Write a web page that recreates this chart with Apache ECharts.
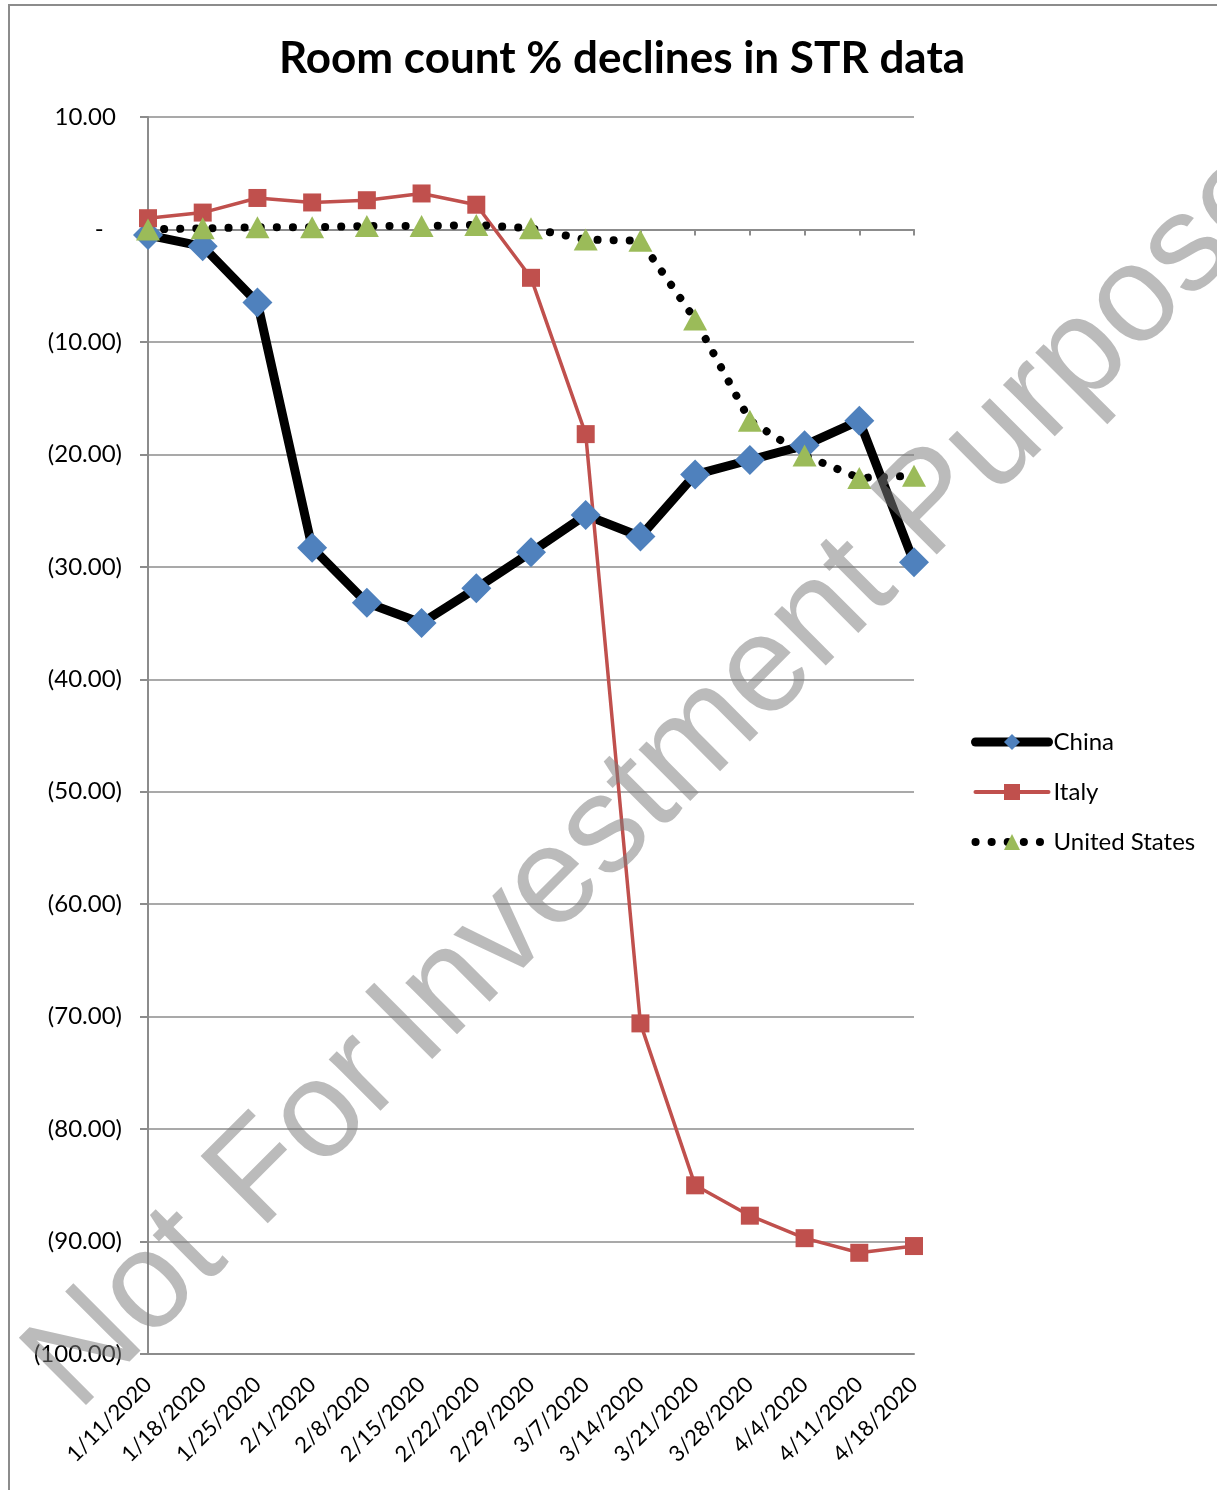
<!DOCTYPE html>
<html>
<head>
<meta charset="utf-8">
<script src="https://cdn.jsdelivr.net/npm/echarts@6/dist/echarts.min.js"></script>
<style>
  html, body { margin: 0; padding: 0; background: #fff; }
  #main { width: 1217px; height: 1490px; }
</style>
</head>
<body>
<div id="main"></div>
<script>
// weeks on the x axis
var weeks = ['1/11/2020', '1/18/2020', '1/25/2020', '2/1/2020', '2/8/2020', '2/15/2020', '2/22/2020',
  '2/29/2020', '3/7/2020', '3/14/2020', '3/21/2020', '3/28/2020', '4/4/2020', '4/11/2020', '4/18/2020'];

// room count % change
var china = [-0.5, -1.5, -6.5, -28.3, -33.2, -35.0, -31.9, -28.7, -25.4, -27.3, -21.8, -20.5, -19.2, -17.0, -29.6];
var italy = [1.0, 1.5, 2.8, 2.4, 2.6, 3.2, 2.2, -4.3, -18.2, -70.6, -85.0, -87.7, -89.7, -91.0, -90.4];
var usa = [0.0, 0.1, 0.2, 0.2, 0.3, 0.3, 0.4, 0.1, -0.9, -1.0, -8.0, -17.0, -20.1, -22.1, -21.9];

var yMin = -100, yMax = 10, yStep = 10;

var font = 'Lato, "Open Sans", sans-serif';

// accounting style labels: 10.00, -, (10.00)
function fmtY(v) {
  if (v === 0) return '-   ';
  if (v < 0) return '(' + Math.abs(v).toFixed(2) + ')';
  return v.toFixed(2) + ' ';
}

var usDots = [0.1, 16];

// watermark, one word at a time along a 45deg baseline
var wmWords = [['Not', 0], ['For', 257], ['Investment', 488], ['Purpose', 1203]];
var wmX0 = 85, wmY0 = 1420, wmSize = 138;
var wmGraphics = wmWords.map(function (w) {
  var d = w[1] * Math.SQRT1_2;
  var up = 0.3465 * wmSize * Math.SQRT1_2; // middle of em box above baseline
  return {
    type: 'text',
    z: 100,
    x: wmX0 + d - up,
    y: wmY0 - d - up,
    rotation: Math.PI / 4,
    style: {
      text: w[0],
      font: wmSize + 'px "Liberation Sans", Arial, sans-serif',
      fill: 'rgba(125,125,125,0.52)',
      align: 'left',
      verticalAlign: 'middle'
    }
  };
});

var myChart = echarts.init(document.getElementById('main'));
myChart.setOption({
  animation: false,
  backgroundColor: '#fff',
  title: {
    text: 'Room count % declines in STR data',
    left: 617,
    textAlign: 'center',
    top: 32,
    textStyle: { fontFamily: font, fontSize: 44, fontWeight: 'bold', color: '#000' }
  },
  legend: {
    orient: 'vertical',
    left: 966,
    top: 725,
    itemWidth: 73,
    itemHeight: 20,
    itemGap: 26,
    textStyle: { fontFamily: font, fontSize: 24, color: '#000' },
    data: [
      { name: 'China', lineStyle: { color: '#000', width: 9, cap: 'round' } },
      { name: 'Italy', lineStyle: { color: '#C0504D', width: 4, cap: 'round' } },
      { name: 'United States', lineStyle: { color: '#000', width: 8, type: usDots, cap: 'round' } }
    ]
  },
  grid: { left: 148, right: 303, top: 117, bottom: 136 },
  xAxis: [
    {
      type: 'category',
      data: weeks,
      boundaryGap: false,
      axisLine: { onZero: false, lineStyle: { color: '#8c8c8c', width: 2 } },
      axisTick: { show: false },
      axisLabel: { rotate: 45, fontFamily: font, fontSize: 22, color: '#000', margin: 27, interval: 0 }
    },
    {
      // zero line with small ticks, no labels
      type: 'category',
      data: weeks,
      boundaryGap: false,
      position: 'bottom',
      axisLine: { onZero: true, onZeroAxisIndex: 0, lineStyle: { color: '#8c8c8c', width: 2 } },
      axisTick: { show: true, inside: false, length: 6, interval: 0, lineStyle: { color: '#8c8c8c', width: 2 } },
      axisLabel: { show: false }
    }
  ],
  yAxis: {
    type: 'value',
    min: yMin,
    max: yMax,
    interval: yStep,
    axisLine: { show: true, lineStyle: { color: '#8c8c8c', width: 2 } },
    axisTick: { show: true, length: 8, lineStyle: { color: '#8c8c8c', width: 2 } },
    splitLine: { lineStyle: { color: '#8c8c8c', width: 1.5 } },
    axisLabel: { formatter: fmtY, fontFamily: font, fontSize: 24, color: '#000', margin: 26 }
  },
  graphic: [
    {
      type: 'rect',
      z: -10,
      shape: { x: 9, y: 5, width: 1400, height: 1700 },
      style: { fill: 'none', stroke: '#8c8c8c', lineWidth: 2 }
    }
  ].concat(wmGraphics),
  series: [
    {
      name: 'China',
      type: 'line',
      data: china,
      symbol: 'diamond',
      symbolSize: [30, 30],
      lineStyle: { color: '#000', width: 9 },
      itemStyle: { color: '#4F81BD' }
    },
    {
      name: 'Italy',
      type: 'line',
      data: italy,
      symbol: 'rect',
      symbolSize: 18,
      lineStyle: { color: '#C0504D', width: 3.5 },
      itemStyle: { color: '#C0504D' }
    },
    {
      name: 'United States',
      type: 'line',
      data: usa,
      symbol: 'triangle',
      symbolSize: [24, 22],
      lineStyle: { color: '#000', width: 8, type: usDots, cap: 'round' },
      itemStyle: { color: '#9BBB59' }
    }
  ]
}, true);
</script>
</body>
</html>
